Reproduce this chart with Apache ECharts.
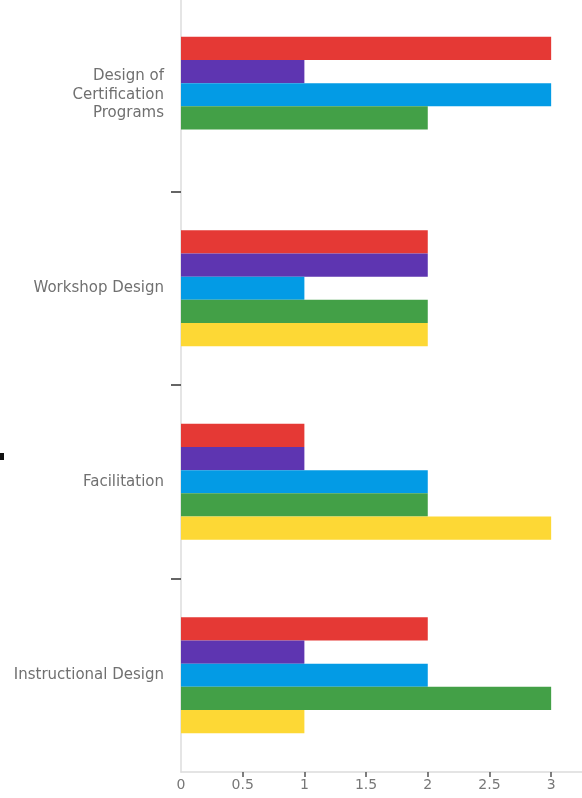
<!DOCTYPE html>
<html>
<head>
<meta charset="utf-8">
<script src="https://cdn.jsdelivr.net/npm/echarts@6/dist/echarts.min.js"></script>
<style>
  html, body { margin: 0; padding: 0; background: #fff; }
  #chart { width: 582px; height: 798px; }
</style>
</head>
<body>
<div id="chart"></div>
<script>
// Skill areas, listed bottom to top along the category axis
const categories = ['Instructional Design', 'Facilitation', 'Workshop Design', 'Design of\nCertification\nPrograms'];

// Ratings per series (top-to-bottom order inside each group: red, purple, blue, green, yellow)
const redValues    = [2, 1, 2, 3];
const purpleValues = [1, 1, 2, 1];
const blueValues   = [2, 2, 1, 3];
const greenValues  = [3, 2, 2, 2];
const yellowValues = [1, 3, 2, 0];

const xTickValues = [0.5, 1, 1.5, 2, 2.5, 3];
const xLabelValues = [0, 0.5, 1, 1.5, 2, 2.5, 3];

const seriesDefs = [
  { name: 'Red',    data: redValues,    color: '#e53935' },
  { name: 'Purple', data: purpleValues, color: '#5e35b1' },
  { name: 'Blue',   data: blueValues,   color: '#039be5' },
  { name: 'Green',  data: greenValues,  color: '#43a047' },
  { name: 'Yellow', data: yellowValues, color: '#fdd835' }
];

const chart = echarts.init(document.getElementById('chart'));
chart.setOption({
  animation: false,
  grid: { left: 181, right: 0, top: -2, bottom: 26, containLabel: false, outerBoundsMode: 'none' },
  xAxis: {
    type: 'value',
    min: 0,
    max: 3.25,
    interval: 0.5,
    axisLine: { show: true, lineStyle: { color: '#dcdcdc', width: 1.5 } },
    axisTick: { show: true, length: 5, customValues: xTickValues, lineStyle: { color: '#555', width: 1.5 } },
    axisLabel: {
      customValues: xLabelValues,
      color: '#777', fontSize: 14, fontFamily: 'DejaVu Sans', margin: 6
    },
    splitLine: { show: false }
  },
  yAxis: {
    type: 'category',
    data: categories,
    axisLine: { show: true, lineStyle: { color: '#dcdcdc', width: 1.5 } },
    axisTick: {
      show: true, length: 10,
      interval: function (idx) { return idx > 0 && idx < categories.length; },
      lineStyle: { color: '#333', width: 1.5 }
    },
    axisLabel: {
      color: '#707070', fontSize: 15, fontFamily: 'DejaVu Sans', margin: 17,
      lineHeight: 18.5, align: 'right'
    }
  },
  series: seriesDefs.map(s => ({
    name: s.name,
    type: 'bar',
    data: s.data,
    barGap: '0%',
    barCategoryGap: '40%',
    itemStyle: { color: s.color }
  })),
  graphic: [
    { type: 'rect', shape: { x: 0, y: 453, width: 4, height: 7 }, style: { fill: '#111' } }
  ]
});
</script>
</body>
</html>
